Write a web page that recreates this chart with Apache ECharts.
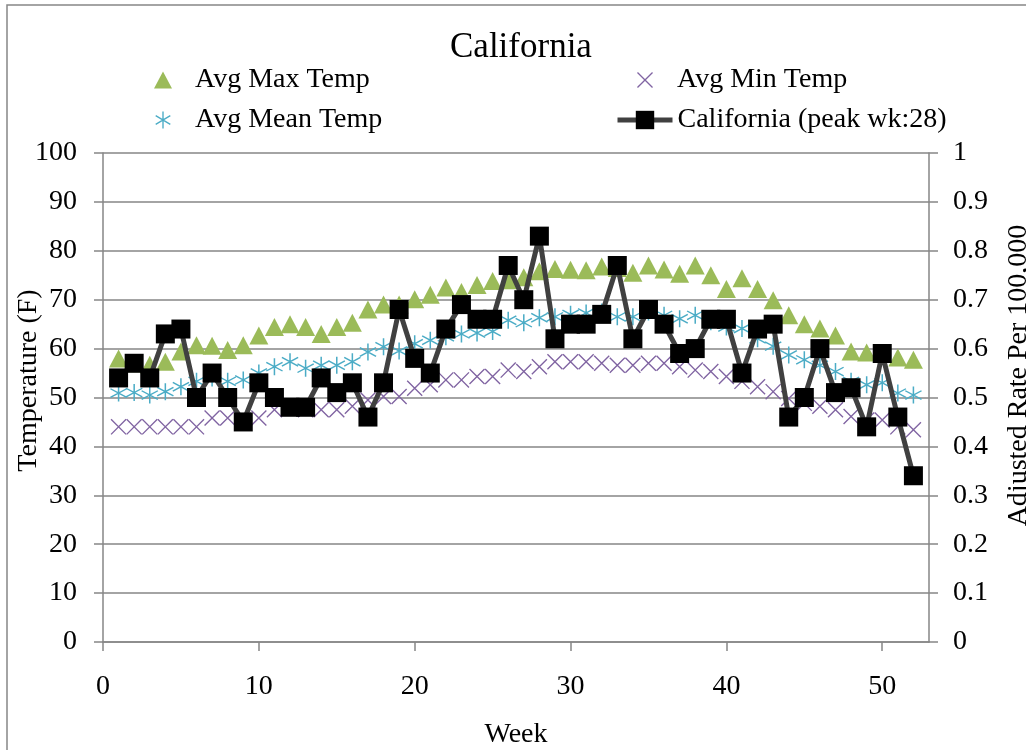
<!DOCTYPE html>
<html>
<head>
<meta charset="utf-8">
<script src="https://cdn.jsdelivr.net/npm/echarts@6/dist/echarts.min.js"></script>
<style>
html,body{margin:0;padding:0;background:#fff;}
#chart{width:1026px;height:750px;}
</style>
</head>
<body>
<div id="chart"></div>
<script>
const weeks = [1,2,3,4,5,6,7,8,9,10,11,12,13,14,15,16,17,18,19,20,21,22,23,24,25,26,27,28,29,30,31,32,33,34,35,36,37,38,39,40,41,42,43,44,45,46,47,48,49,50,51,52];
const avgMaxTemp = [58,57,56.7,57.3,59.4,60.7,60.6,59.7,60.7,62.7,64.4,65,64.4,63,64.4,65.3,68,69,69,70.1,71,72.5,71.6,73,73.8,74,74.6,75.8,76.3,76.1,76,76.8,76.5,75.5,77,76.2,75.3,77,75,72.2,74.4,72.2,69.9,66.8,65,64.1,62.7,59.4,59.2,59,58.2,57.7];
const avgMinTemp = [44,44,44,44,44,44,45.8,45.8,45.4,45.8,47.5,48,47.5,47.5,47.5,48.2,49.5,50.2,50.2,51.9,52.6,53.6,53.6,54.3,54.3,55.6,55.3,56.3,57.3,57.3,57.3,57,56.6,56.6,57,57,56.3,55.6,55.3,54.3,53.3,52.2,51.2,49.8,48.8,48.2,47.5,46.1,45.4,45.4,44,43.4];
const avgMeanTemp = [50.9,51,50.5,51.2,52.2,53.3,54,53.3,53.6,55,56.3,57.3,56,56.6,56.6,57.3,59.3,60.4,59.5,61,61.7,62.4,63,63.2,63.5,65.8,65.3,66.3,66.5,67,67.3,67.5,66.5,66.5,67.5,66.8,66.1,66.8,65.5,64.4,64.1,62,60.5,58.7,57.7,56.6,55.3,53.3,52.6,53,50.9,50.5];
const californiaRate = [0.54,0.57,0.54,0.63,0.64,0.50,0.55,0.50,0.45,0.53,0.50,0.48,0.48,0.54,0.51,0.53,0.46,0.53,0.68,0.58,0.55,0.64,0.69,0.66,0.66,0.77,0.70,0.83,0.62,0.65,0.65,0.67,0.77,0.62,0.68,0.65,0.59,0.60,0.66,0.66,0.55,0.64,0.65,0.46,0.50,0.60,0.51,0.52,0.44,0.59,0.46,0.34];
const xTickValues = [0,10,20,30,40,50];
const seriesNames = ['Avg Max Temp','Avg Min Temp','Avg Mean Temp','California (peak wk:28)'];

const pairs = (vals) => weeks.map((w, i) => [w, vals[i]]);
const FONT = 'Liberation Serif';
const GRAY = '#868686';
const asteriskPath = 'path://M46,0 L54,0 L54,100 L46,100 Z M5,28 L9,21 L95,72 L91,79 Z M5,72 L91,21 L95,28 L9,79 Z';
const xPath = 'path://M0,6 L6,0 L100,94 L94,100 Z M94,0 L100,6 L6,100 L0,94 Z';
const legendText = () => ({fontFamily: FONT, fontSize: 28, color: '#000'});

const chart = echarts.init(document.getElementById('chart'), null, {renderer: 'canvas'});
chart.setOption({
  animation: false,
  backgroundColor: '#fff',
  textStyle: {fontFamily: FONT},
  graphic: [{
    type: 'rect', silent: true, z: -1,
    shape: {x: 7, y: 5, width: 1040, height: 780},
    style: {fill: 'none', stroke: GRAY, lineWidth: 1.5}
  }],
  title: {
    text: 'California',
    left: 445, top: 25,
    textStyle: {fontFamily: FONT, fontSize: 35, fontWeight: 'normal', color: '#000'}
  },
  legend: [{
    orient: 'vertical', left: 154, top: 66, padding: 0,
    itemWidth: 18, itemHeight: 17, itemGap: 12,
    data: [seriesNames[0], seriesNames[2]],
    textStyle: Object.assign({padding: [0, 0, 0, 18]}, legendText())
  }, {
    orient: 'vertical', left: 637, top: 66, padding: 0,
    itemWidth: 18, itemHeight: 16,
    data: [seriesNames[1]],
    textStyle: Object.assign({padding: [0, 0, 0, 18]}, legendText())
  }, {
    orient: 'vertical', left: 615, top: 106, padding: 0,
    itemWidth: 55, itemHeight: 23,
    lineStyle: {width: 5},
    data: [seriesNames[3]],
    textStyle: legendText()
  }],
  grid: {left: 103, right: 97, top: 153, bottom: 108, containLabel: false, outerBoundsMode: 'none'},
  xAxis: {
    type: 'value', min: 0, max: 53, interval: 10,
    name: 'Week', nameLocation: 'middle', nameGap: 79, nameMoveOverlap: false,
    nameTextStyle: {fontFamily: FONT, fontSize: 28, color: '#000'},
    axisLine: {show: true, lineStyle: {color: GRAY, width: 1.5}},
    axisTick: {show: true, length: 9, customValues: xTickValues, lineStyle: {color: GRAY, width: 1.5}},
    axisLabel: {customValues: xTickValues, margin: 31, fontFamily: FONT, fontSize: 28, color: '#000'},
    splitLine: {show: false}
  },
  yAxis: [{
    type: 'value', min: 0, max: 100, interval: 10, position: 'left',
    name: 'Temperature (F)', nameLocation: 'middle', nameRotate: 90, nameGap: 60, nameMoveOverlap: false,
    nameTextStyle: {fontFamily: FONT, fontSize: 28, color: '#000', padding: [0, 0, 0, 34]},
    axisLine: {show: true, lineStyle: {color: GRAY, width: 1.5}},
    axisTick: {show: true, length: 9, lineStyle: {color: GRAY, width: 1.5}},
    axisLabel: {margin: 26, fontFamily: FONT, fontSize: 28, color: '#000'},
    splitLine: {show: true, lineStyle: {color: GRAY, width: 1.5}}
  }, {
    type: 'value', min: 0, max: 1, interval: 0.1, position: 'right',
    name: 'Adjusted Rate Per 100,000', nameLocation: 'middle', nameRotate: 90, nameGap: 76, nameMoveOverlap: false,
    nameTextStyle: {fontFamily: FONT, fontSize: 28, color: '#000', padding: [0, 0, 0, 44]},
    axisLine: {show: true, lineStyle: {color: GRAY, width: 1.5}},
    axisTick: {show: true, length: 9, lineStyle: {color: GRAY, width: 1.5}},
    axisLabel: {margin: 24, fontFamily: FONT, fontSize: 28, color: '#000'},
    splitLine: {show: false}
  }],
  series: [{
    name: seriesNames[0], type: 'scatter', yAxisIndex: 0,
    symbol: 'triangle', symbolSize: [19, 18],
    itemStyle: {color: '#9BBB59', opacity: 1},
    data: pairs(avgMaxTemp)
  }, {
    name: seriesNames[1], type: 'scatter', yAxisIndex: 0,
    symbol: xPath, symbolSize: [16, 16],
    itemStyle: {color: '#8064A2', opacity: 1},
    data: pairs(avgMinTemp)
  }, {
    name: seriesNames[2], type: 'scatter', yAxisIndex: 0,
    symbol: asteriskPath, symbolSize: [17, 17],
    itemStyle: {color: '#4BACC6', opacity: 1},
    data: pairs(avgMeanTemp)
  }, {
    name: seriesNames[3], type: 'line', yAxisIndex: 1,
    symbol: 'rect', symbolSize: 19, showAllSymbol: true,
    itemStyle: {color: '#000'},
    lineStyle: {color: '#404040', width: 5},
    data: pairs(californiaRate)
  }]
});
</script>
</body>
</html>
